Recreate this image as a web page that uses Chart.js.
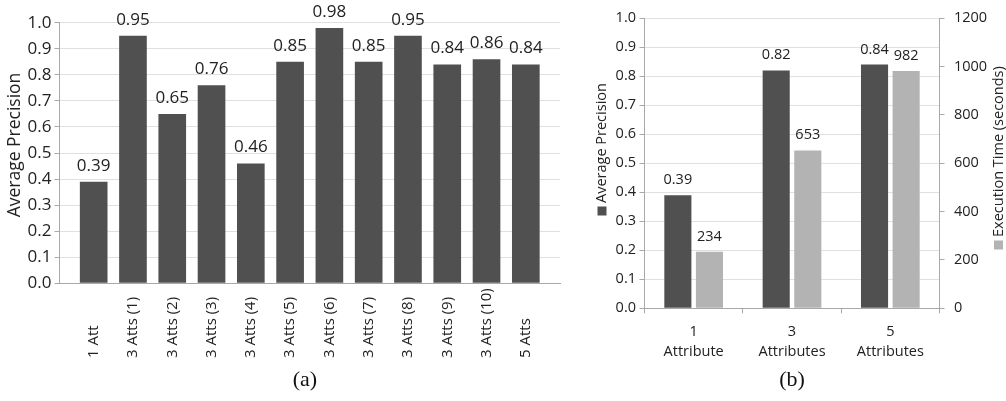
<!DOCTYPE html>
<html>
<head>
<meta charset="utf-8">
<script src="https://cdn.jsdelivr.net/npm/chart.js@4.4.0/dist/chart.umd.min.js"></script>
<style>
  body { margin: 0; background: #fff; width: 1006px; height: 401px; overflow: hidden; position: relative; }
  #wa { position: absolute; left: 0; top: 0; width: 570px; height: 370px; }
  #wb { position: absolute; left: 570px; top: 0; width: 436px; height: 370px; }
  .cap { position: absolute; top: 366px; width: 100px; text-align: center; font: 22px "Liberation Serif", serif; color: #111; }
</style>
</head>
<body>
<div id="wa"><canvas id="chartA" width="570" height="370"></canvas></div>
<div id="wb"><canvas id="chartB" width="436" height="370"></canvas></div>
<div class="cap" style="left:255px">(a)</div>
<div class="cap" style="left:742px">(b)</div>
<script>
// panel (a)
const labelsA = ['1 Att', '3 Atts (1)', '3 Atts (2)', '3 Atts (3)', '3 Atts (4)', '3 Atts (5)',
  '3 Atts (6)', '3 Atts (7)', '3 Atts (8)', '3 Atts (9)', '3 Atts (10)', '5 Atts'];
const precisionA = [0.39, 0.95, 0.65, 0.76, 0.46, 0.85, 0.98, 0.85, 0.95, 0.84, 0.86, 0.84];

// panel (b)
const labelsB = [['1', 'Attribute'], ['3', 'Attributes'], ['5', 'Attributes']];
const precisionB = [0.39, 0.82, 0.84];
const timeB = [234, 653, 982];

const dark = '#505050', light = '#b3b3b3';
const gridC = '#e0e0e0', axisC = '#a8a8a8', txt = '#222';
const FONT = '"Open Sans", sans-serif';

// value labels above the bars
function barLabels(size, gap, digits) {
  return {
    id: 'barLabels',
    afterDatasetsDraw(chart) {
      const ctx = chart.ctx;
      chart.data.datasets.forEach((ds, di) => {
        chart.getDatasetMeta(di).data.forEach((bar, i) => {
          const d = ds.data[i];
          const v = typeof d === 'object' ? d.y : d;
          ctx.save();
          ctx.font = size + 'px ' + FONT;
          ctx.fillStyle = txt;
          ctx.textAlign = 'center';
          ctx.textBaseline = 'alphabetic';
          ctx.fillText(v.toFixed(digits[di]), bar.x, bar.y - gap);
          ctx.restore();
        });
      });
    }
  };
}

// rotated text, reading bottom to top, optional colour square before it
function drawUp(ctx, text, x, y, size, align, square) {
  ctx.save();
  ctx.translate(x, y);
  ctx.rotate(-Math.PI / 2);
  ctx.font = size + 'px ' + FONT;
  ctx.fillStyle = txt;
  ctx.textAlign = align;
  ctx.textBaseline = 'middle';
  let start = 0;
  if (square) {
    ctx.fillStyle = square;
    ctx.fillRect(-4.5, -4.5, 9, 9);
    ctx.fillStyle = txt;
    start = 8;
  }
  ctx.fillText(text, start, 0);
  ctx.restore();
}

const extrasA = {
  id: 'extrasA',
  afterDraw(chart) {
    const ctx = chart.ctx, xs = chart.scales.x;
    labelsA.forEach((l, i) => drawUp(ctx, l, xs.getPixelForValue(i), 358, 15, 'left'));
    drawUp(ctx, 'Average Precision', 15, 145, 17.5, 'center');
  }
};

new Chart('chartA', {
  type: 'bar',
  data: {
    datasets: [{
      label: 'Average Precision',
      data: precisionA.map((v, i) => ({ x: i, y: v })),
      backgroundColor: dark,
      categoryPercentage: 0.8,
      barPercentage: 0.88
    }]
  },
  options: {
    responsive: false,
    animation: false,
    events: [],
    layout: { padding: { left: 0, right: 10, top: 22.7, bottom: 0 } },
    plugins: { legend: { display: false }, tooltip: { enabled: false } },
    scales: {
      x: {
        type: 'linear', min: -0.87, max: 11.87, offset: false,
        ticks: { display: false },
        grid: { display: false },
        border: { color: axisC },
        afterFit(s) { s.height = 370 - 283.3; }
      },
      y: {
        min: 0, max: 1,
        ticks: { stepSize: 0.1, callback: v => v.toFixed(1), font: { family: FONT, size: 17 }, color: txt, padding: 3 },
        grid: { color: gridC, tickColor: axisC, tickLength: 5 },
        border: { color: axisC },
        afterFit(s) { s.width = 59.5; }
      }
    }
  },
  plugins: [barLabels(17, 11, [2]), extrasA]
});

const extrasB = {
  id: 'extrasB',
  afterDraw(chart) {
    const ctx = chart.ctx;
    drawUp(ctx, 'Average Precision', 32, 211, 14.5, 'left', dark);
    drawUp(ctx, 'Execution Time (seconds)', 428.5, 245, 14.5, 'left', light);
  }
};

new Chart('chartB', {
  type: 'bar',
  data: {
    labels: labelsB,
    datasets: [
      { label: 'Average Precision', data: precisionB, backgroundColor: dark, yAxisID: 'y' },
      { label: 'Execution Time (seconds)', data: timeB, backgroundColor: light, yAxisID: 'y1' }
    ]
  },
  options: {
    responsive: false,
    animation: false,
    events: [],
    categoryPercentage: 0.643,
    barPercentage: 0.857,
    layout: { padding: { left: 0, right: 0, top: 11, bottom: 0 } },
    plugins: { legend: { display: false }, tooltip: { enabled: false } },
    scales: {
      x: {
        ticks: { font: { family: FONT, size: 14.5, lineHeight: 1.4 }, color: txt, padding: 8 },
        grid: { offset: true, drawOnChartArea: false, color: axisC, tickLength: 5 },
        border: { color: axisC },
        afterFit(s) { s.height = 370 - 308.3; }
      },
      y: {
        position: 'left', min: 0, max: 1,
        ticks: { stepSize: 0.1, callback: v => v.toFixed(1), font: { family: FONT, size: 14.5 }, color: txt, padding: 3.5 },
        grid: { color: gridC, tickColor: axisC, tickLength: 5 },
        border: { color: axisC },
        afterFit(s) { s.width = 74.5; }
      },
      y1: {
        position: 'right', min: 0, max: 1200,
        ticks: { stepSize: 200, callback: v => String(v), font: { family: FONT, size: 14.5 }, color: txt, padding: 9.5 },
        grid: { drawOnChartArea: false, color: axisC, tickLength: 5 },
        border: { color: axisC },
        afterFit(s) { s.width = 66.5; }
      }
    }
  },
  plugins: [barLabels(14.5, 11, [2, 0]), extrasB]
});
</script>
</body>
</html>
